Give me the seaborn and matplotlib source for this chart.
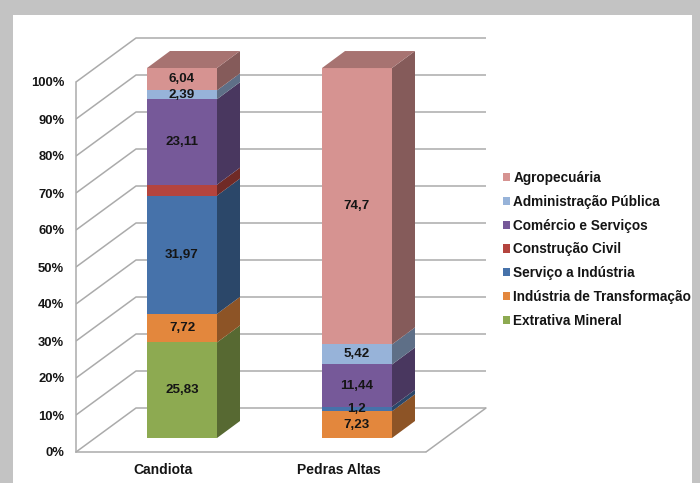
import numpy as np
import pandas as pd
import matplotlib
matplotlib.use("Agg")
import matplotlib.pyplot as plt
from matplotlib.patches import Rectangle
import seaborn as sns

# ---------------- data ----------------
categories = ["Candiota", "Pedras Altas"]
# stacking order bottom -> top
sectors = ["Extrativa Mineral", "Indústria de Transformação", "Serviço a Indústria",
           "Construção Civil", "Comércio e Serviços", "Administração Pública", "Agropecuária"]
extrativa = [25.83, 0.0]
industria = [7.72, 7.23]
servico = [31.97, 1.2]
construcao = [2.94, 0.0]
comercio = [23.11, 11.44]
administracao = [2.39, 5.42]
agropecuaria = [6.04, 74.7]
series_values = [extrativa, industria, servico, construcao, comercio, administracao, agropecuaria]
hidden_labels = {("Candiota", "Construção Civil")}
yticks = [0, 10, 20, 30, 40, 50, 60, 70, 80, 90, 100]
ytick_labels = ["0%", "10%", "20%", "30%", "40%", "50%", "60%", "70%", "80%", "90%", "100%"]

# ---------------- style ----------------
front_colors = ["#8DAA51", "#E3873D", "#4672AA", "#B4443E", "#765999", "#97B3D9", "#D69391"]

def shade(c, f):
    r, g, b = matplotlib.colors.to_rgb(c)
    return (r * f, g * f, b * f)

sns.set_style("white")
plt.rcParams["font.family"] = ["Liberation Sans", "DejaVu Sans"]

W, H = 700, 483
fig = plt.figure(figsize=(W / 100, H / 100), dpi=100)
fig.patch.set_facecolor("#c3c3c3")
fig.patches.append(Rectangle((13 / W, 0), (692 - 13) / W, (H - 15) / H,
                             transform=fig.transFigure, facecolor="white",
                             edgecolor="none", zorder=-10))

# axes geometry (pixels)
px_x0, px_y0 = 76, 452          # front-left-bottom corner
px_cat = 175.0                   # pixels per category
px_pct = 3.7                     # pixels per percent
xlim = (-0.5, 1.9)
ylim = (0, 113)
ax = fig.add_axes([px_x0 / W, (H - px_y0) / H,
                   (xlim[1] - xlim[0]) * px_cat / W, (ylim[1] - ylim[0]) * px_pct / H])
ax.set_facecolor("none")
ax.set_zorder(2)

# depth vectors (data units)
Dx, Dy = 60 / px_cat, 44 / px_pct            # whole floor depth
offx, offy = 18.5 / px_cat, 14 / px_pct      # bar front plane offset
ddx, ddy = 23 / px_cat, 17 / px_pct          # bar depth
bar_w = 0.4

grid_c = "#ababab"
# walls / gridlines
for v in yticks:
    ax.plot([-0.5, -0.5 + Dx, 1.5 + Dx], [v, v + Dy, v + Dy], color=grid_c, lw=1.1,
            zorder=1, solid_capstyle="butt")
ax.plot([1.5, 1.5 + Dx], [0, Dy], color=grid_c, lw=1.1, zorder=1)

# ---------------- bars ----------------
xpos = np.arange(len(categories)) + offx
bottoms = np.zeros(len(categories))
for name, vals, col in zip(sectors, series_values, front_colors):
    vals = np.array(vals, dtype=float)
    sns.barplot(x=xpos, y=vals, bottom=bottoms + offy, color=col, width=bar_w,
                native_scale=True, orient="x", errorbar=None, linewidth=0,
                saturation=1, ax=ax, zorder=3)
    # side faces
    for i in range(len(categories)):
        if vals[i] <= 0:
            continue
        xr = xpos[i] + bar_w / 2
        b = bottoms[i] + offy
        t = b + vals[i]
        ax.fill([xr, xr, xr + ddx, xr + ddx], [b, t, t + ddy, b + ddy],
                color=shade(col, 0.62), lw=0, zorder=3)
        # labels
        if (categories[i], name) not in hidden_labels:
            txt = f"{vals[i]:g}".replace(".", ",")
            ax.text(xpos[i], b + vals[i] / 2, txt, ha="center", va="center",
                    fontsize=9.6, fontweight="bold", color="#151515", zorder=5)
    bottoms = bottoms + vals

# top faces on the topmost non-zero segment
for i in range(len(categories)):
    top_col = None
    for vals, col in zip(series_values, front_colors):
        if vals[i] > 0:
            top_col = col
    T = bottoms[i] + offy
    xl = xpos[i] - bar_w / 2
    xr = xpos[i] + bar_w / 2
    ax.fill([xl, xr, xr + ddx, xl + ddx], [T, T, T + ddy, T + ddy],
            color=shade(top_col, 0.78), lw=0, zorder=3)

# ---------------- axes ----------------
ax.set_xlim(*xlim)
ax.set_ylim(*ylim)
ax.set_yticks(yticks)
ax.set_yticklabels(ytick_labels)
ax.set_xticks(np.arange(len(categories)))
ax.set_xticklabels(categories)
ax.set_xticks([-0.5, 0.5, 1.5], minor=True)
ax.tick_params(axis="y", length=4.5, width=1, color=grid_c, pad=4, labelsize=9.4)
ax.tick_params(axis="x", which="major", length=0, pad=8, labelsize=10)
ax.tick_params(axis="x", which="minor", length=4, width=1, color=grid_c)
for lab in ax.get_yticklabels() + ax.get_xticklabels():
    lab.set_fontweight("bold")
    lab.set_color("#151515")
for s in ["top", "right"]:
    ax.spines[s].set_visible(False)
ax.spines["left"].set_bounds(0, 100)
ax.spines["bottom"].set_bounds(-0.5, 1.5)
for s in ["left", "bottom"]:
    ax.spines[s].set_color(grid_c)
    ax.spines[s].set_linewidth(1.1)
ax.set_xlabel("")
ax.set_ylabel("")

# ---------------- legend ----------------
handles = [Rectangle((0, 0), 1, 1, facecolor=c, edgecolor="none") for c in front_colors][::-1]
leg = fig.legend(handles, sectors[::-1], loc="upper left",
                 bbox_to_anchor=(503 / W, (H - 171) / H), frameon=False,
                 prop={"size": 9.8, "weight": "bold"}, handlelength=0.55, handleheight=0.55,
                 handletextpad=0.2, labelspacing=0.72, borderaxespad=0, borderpad=0)
for t in leg.get_texts():
    t.set_color("#151515")

fig.savefig("out.png", dpi=100, facecolor=fig.get_facecolor())
